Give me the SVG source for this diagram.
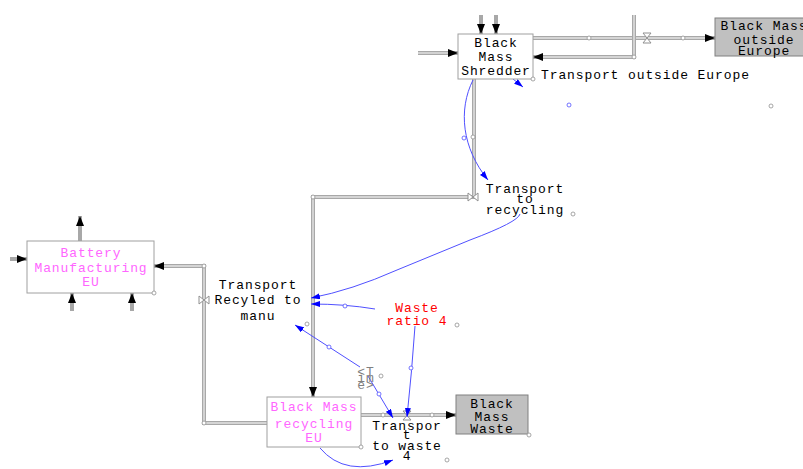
<svg xmlns="http://www.w3.org/2000/svg" width="803" height="469" viewBox="0 0 803 469">
<style>
.t{font-family:"Liberation Mono","DejaVu Sans Mono",monospace;font-size:13px;letter-spacing:0.9px;text-anchor:middle;fill:#000}
.pk{fill:#ff66ff}
.rd{fill:#ff0000}
.gy{fill:#808080}
.box{fill:#fff;stroke:#a0a0a0;stroke-width:1}
.gbox{fill:#c0c0c0;stroke:#808080;stroke-width:1}
.po{fill:none;stroke:#a8a8a8;stroke-width:4}
.pi{fill:none;stroke:#e4e4e4;stroke-width:1.4}
.lk{fill:none;stroke:#5050ff;stroke-width:1}
.c{fill:#fff;stroke:#909090;stroke-width:0.8}
.cb{fill:#fff;stroke:#5050ff;stroke-width:0.8}
.v{fill:#fff;stroke:#909090;stroke-width:1}
</style>
<defs>
<marker id="fa" viewBox="0 0 10 8" refX="10" refY="4" markerWidth="10" markerHeight="8" markerUnits="userSpaceOnUse" orient="auto"><path d="M0,0 L10,4 L0,8 z" fill="#000"/></marker>
<marker id="ba" viewBox="0 0 9 6" refX="9" refY="3" markerWidth="9" markerHeight="6" markerUnits="userSpaceOnUse" orient="auto"><path d="M0,0 L9,3 L0,6 z" fill="#0000ff"/></marker>
</defs>
<rect width="803" height="469" fill="#fff"/>

<g id="connectors">
  <!-- flow pipes -->
  <path class="po" d="M533,38 H715" marker-end="url(#fa)"/><path class="pi" d="M533,38 H705"/>
  <path class="po" d="M634,15 V57 H533" marker-end="url(#fa)"/><path class="pi" d="M634,15 V57 H543"/>
  <path class="po" d="M474,79 V197 H313 V397" marker-end="url(#fa)"/><path class="pi" d="M474,79 V197 H313 V387"/>
  <path class="po" d="M267,423 H204 V266 H154" marker-end="url(#fa)"/><path class="pi" d="M267,423 H204 V266 H164"/>
  <path class="po" d="M361,415 H456" marker-end="url(#fa)"/><path class="pi" d="M361,415 H446"/>
  <!-- stubs -->
  <path class="po" d="M481,15 V34" marker-end="url(#fa)"/>
  <path class="po" d="M496,15 V34" marker-end="url(#fa)"/>
  <path class="po" d="M418,53 H458" marker-end="url(#fa)"/><path class="pi" d="M418,53 H448"/>
  <path class="po" d="M80,241 V216" marker-end="url(#fa)"/>
  <path class="po" d="M72,311 V293" marker-end="url(#fa)"/>
  <path class="po" d="M132,311 V293" marker-end="url(#fa)"/>
  <path class="po" d="M10,259 H27" marker-end="url(#fa)"/>
  <!-- valves -->
  <path class="v" d="M643,33 H651 L643,43 H651 Z"/>
  <path class="v" d="M468,193 V201 L478,193 V201 Z"/>
  <path class="v" d="M199,296 V304 L209,296 V304 Z"/>
  <path class="v" d="M403,411 H411 L403,420 H411 Z"/>
  <!-- info links -->
  <path class="lk" d="M473,80 C458,110 462,148 488,180" marker-end="url(#ba)"/>
  <path class="lk" d="M513,79 L523,87" marker-end="url(#ba)"/>
  <path class="lk" d="M520,214 Q518,222 470,240 L397,270 Q352,290 311,298" marker-end="url(#ba)"/>
  <path class="lk" d="M375,309 Q345,304 311,304" marker-end="url(#ba)"/>
  <path class="lk" d="M360,367 L295,325" marker-end="url(#ba)"/>
  <path class="lk" d="M368,376 L393,418" marker-end="url(#ba)"/>
  <path class="lk" d="M415,326 Q412,370 407,417" marker-end="url(#ba)"/>
  <path class="lk" d="M320,448 Q345,478 393,460" marker-end="url(#ba)"/>
  <!-- small handles -->
  <circle class="c" cx="589" cy="38" r="2"/><circle class="c" cx="683" cy="38" r="2"/>
  <circle class="c" cx="634" cy="57" r="2"/>
  <circle class="c" cx="473" cy="137" r="2"/><circle class="c" cx="313" cy="197" r="2"/>
  <circle class="c" cx="204" cy="266" r="2"/><circle class="c" cx="204" cy="423" r="2"/>
  <circle class="c" cx="383" cy="415" r="2"/><circle class="c" cx="432" cy="415" r="2"/>
  <circle class="cb" cx="464" cy="138" r="2"/>
  <circle class="cb" cx="569" cy="105" r="2"/>
  <circle class="cb" cx="345" cy="306" r="2"/>
  <circle class="cb" cx="329" cy="347" r="2"/>
  <circle class="cb" cx="411" cy="368" r="2"/>
  <circle class="cb" cx="379" cy="394" r="2"/>
</g>

<g id="black-mass-shredder">
  <rect class="box" x="458" y="34" width="75" height="45"/>
  <text class="t" x="496" y="47">Black</text>
  <text class="t" x="496" y="61">Mass</text>
  <text class="t" x="496" y="75">Shredder</text>
  <circle class="c" cx="533" cy="79" r="2"/>
</g>

<g id="black-mass-outside-europe">
  <rect class="gbox" x="715" y="18" width="100" height="38"/>
  <text class="t" x="764" y="30">Black Mass</text>
  <text class="t" x="764" y="44">outside</text>
  <text class="t" x="764" y="55">Europe</text>
</g>

<g id="transport-outside-europe">
  <text class="t" x="541" y="79" style="text-anchor:start">Transport outside Europe</text>
  <circle class="c" cx="771" cy="106" r="2"/>
</g>

<g id="transport-to-recycling">
  <text class="t" x="525" y="193">Transport</text>
  <text class="t" x="525" y="203">to</text>
  <text class="t" x="525" y="214">recycling</text>
  <circle class="c" cx="573" cy="214" r="2"/>
</g>

<g id="battery-manufacturing-eu">
  <rect class="box" x="27" y="241" width="127" height="52"/>
  <text class="t pk" x="91" y="257">Battery</text>
  <text class="t pk" x="91" y="272">Manufacturing</text>
  <text class="t pk" x="91" y="286">EU</text>
  <circle class="c" cx="154" cy="293" r="2"/>
</g>

<g id="transport-recyled-to-manu">
  <text class="t" x="258" y="289">Transport</text>
  <text class="t" x="258" y="304">Recyled to</text>
  <text class="t" x="258" y="320">manu</text>
  <circle class="c" cx="307" cy="324" r="2"/>
</g>

<g id="waste-ratio-4">
  <text class="t rd" x="417" y="312">Waste</text>
  <text class="t rd" x="417" y="325">ratio 4</text>
  <circle class="c" cx="457" cy="325" r="2"/>
</g>

<g id="time-shadow">
  <text class="t gy" x="366" y="376">&lt;T</text>
  <text class="t gy" x="366" y="382">im</text>
  <text class="t gy" x="366" y="389">e&gt;</text>
  <circle class="c" cx="381" cy="376" r="2"/>
</g>

<g id="black-mass-recycling-eu">
  <rect class="box" x="267" y="397" width="94" height="50"/>
  <text class="t pk" x="314" y="411">Black Mass</text>
  <text class="t pk" x="314" y="428">recycling</text>
  <text class="t pk" x="314" y="442">EU</text>
  <circle class="c" cx="361" cy="447" r="2"/>
</g>

<g id="transport-to-waste-4">
  <text class="t" x="407" y="430">Transpor</text>
  <text class="t" x="407" y="439">t</text>
  <text class="t" x="407" y="450">to waste</text>
  <text class="t" x="407" y="460">4</text>
  <circle class="c" cx="447" cy="460" r="2"/>
</g>

<g id="black-mass-waste">
  <rect class="gbox" x="456" y="395" width="72" height="39"/>
  <text class="t" x="492" y="408">Black</text>
  <text class="t" x="492" y="421">Mass</text>
  <text class="t" x="492" y="433">Waste</text>
  <circle class="c" cx="529" cy="435" r="2"/>
</g>
</svg>
